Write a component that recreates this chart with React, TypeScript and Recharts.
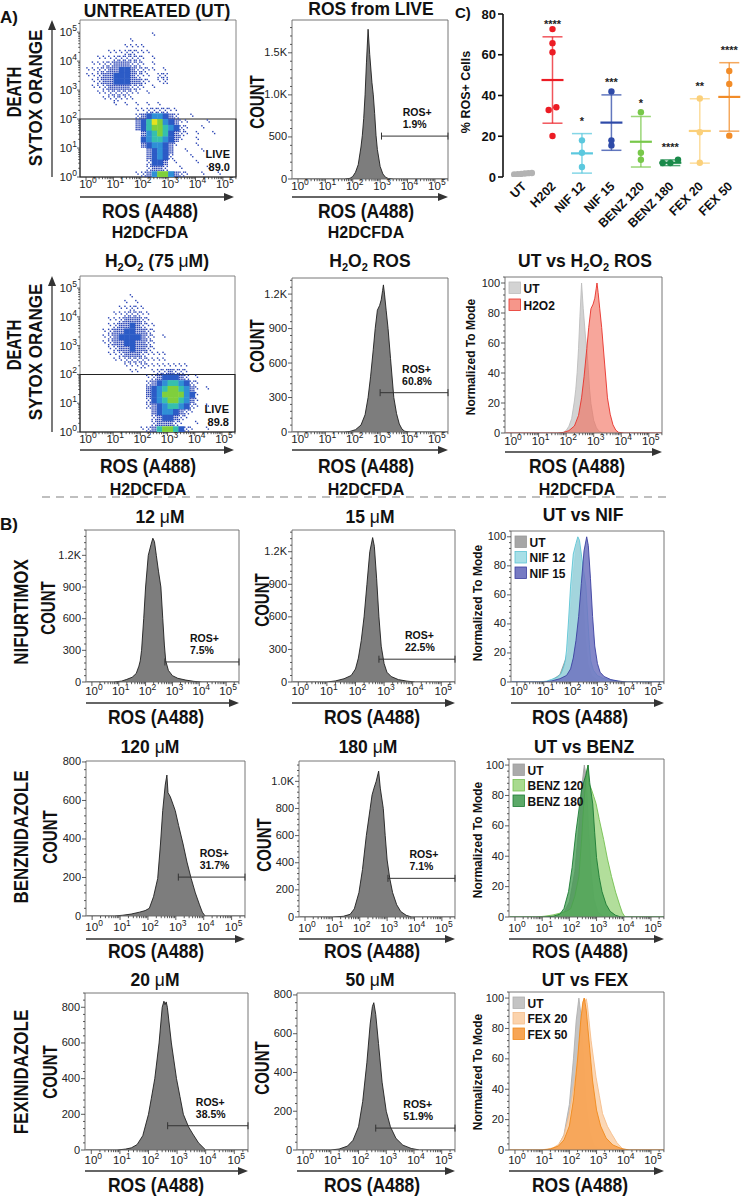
import React from 'react';
import {
  ComposedChart,
  Area,
  Scatter,
  XAxis,
  YAxis,
  ReferenceArea,
  ReferenceDot,
  ReferenceLine,
  ErrorBar,
} from 'recharts';

const FONT = '"Liberation Sans", Arial, Helvetica, sans-serif';

type Pt = [number, number];

// ---------------------------------------------------------------------------
// ROS (A488) histograms: [log10 fluorescence, events]
// ---------------------------------------------------------------------------
const utLiveHist: Pt[] = [
  [-0.2, 0], [1.7, 0], [1.9, 8], [2.0, 30], [2.1, 80], [2.2, 170], [2.3, 380], [2.35, 520],
  [2.4, 720], [2.45, 1000], [2.5, 1380], [2.56, 1780], [2.62, 1480], [2.7, 1150], [2.75, 1000],
  [2.8, 780], [2.85, 520], [2.9, 350], [3.0, 150], [3.1, 60], [3.2, 20], [3.3, 6], [3.5, 0], [5.48, 0],
];
const h2o2Hist: Pt[] = [
  [-0.2, 0], [1.7, 0], [1.9, 5], [2.1, 20], [2.3, 60], [2.45, 150], [2.56, 300], [2.65, 480],
  [2.75, 720], [2.82, 900], [2.9, 1060], [2.98, 1100], [3.04, 1150], [3.09, 1230], [3.12, 1280],
  [3.16, 1200], [3.22, 1060], [3.29, 900], [3.38, 640], [3.5, 300], [3.6, 160], [3.7, 70],
  [3.8, 25], [3.9, 6], [4.1, 0], [5.48, 0],
];
const nif12Hist: Pt[] = [
  [-0.2, 0], [0.8, 0], [1.1, 8], [1.3, 25], [1.5, 45], [1.65, 80], [1.75, 150], [1.8, 200],
  [1.85, 300], [1.93, 600], [2.0, 900], [2.1, 1200], [2.2, 1300], [2.27, 1362], [2.33, 1330],
  [2.4, 1200], [2.48, 1050], [2.57, 900], [2.64, 600], [2.7, 350], [2.75, 200], [2.85, 110],
  [3.0, 60], [3.2, 35], [3.5, 18], [3.8, 6], [4.1, 0], [5.48, 0],
];
const nif15Hist: Pt[] = [
  [-0.2, 0], [1.0, 0], [1.3, 10], [1.6, 30], [1.85, 60], [2.0, 120], [2.1, 220], [2.2, 380],
  [2.3, 600], [2.4, 900], [2.5, 1200], [2.6, 1330], [2.66, 1250], [2.74, 950], [2.82, 600],
  [2.9, 330], [3.0, 170], [3.1, 90], [3.25, 50], [3.5, 22], [3.8, 8], [4.1, 0], [5.48, 0],
];
const benz120Hist: Pt[] = [
  [-0.2, 0], [0.8, 0], [1.1, 4], [1.4, 10], [1.7, 20], [1.9, 28], [2.05, 40], [2.2, 100],
  [2.35, 195], [2.45, 374], [2.53, 547], [2.62, 680], [2.68, 732], [2.72, 640], [2.8, 620],
  [2.9, 580], [2.98, 547], [3.1, 470], [3.26, 374], [3.4, 280], [3.55, 195], [3.7, 120],
  [3.85, 58], [3.95, 20], [4.05, 0], [5.48, 0],
];
const benz180Hist: Pt[] = [
  [-0.2, 0], [1.0, 0], [1.4, 5], [1.65, 20], [1.8, 60], [1.97, 180], [2.1, 350], [2.24, 600],
  [2.38, 800], [2.45, 900], [2.52, 950], [2.6, 1000], [2.69, 1075], [2.75, 950], [2.86, 800],
  [2.93, 600], [3.0, 420], [3.1, 280], [3.2, 180], [3.35, 90], [3.5, 40], [3.7, 12], [3.9, 0], [5.48, 0],
];
const fex20Hist: Pt[] = [
  [-0.2, 0], [0.9, 0], [1.2, 5], [1.4, 12], [1.6, 30], [1.8, 80], [2.0, 200], [2.1, 290],
  [2.22, 400], [2.37, 600], [2.48, 800], [2.54, 834], [2.58, 815], [2.62, 830], [2.66, 800],
  [2.8, 600], [2.98, 400], [3.1, 300], [3.22, 200], [3.4, 130], [3.55, 90], [3.75, 40], [4.0, 0], [5.48, 0],
];
const fex50Hist: Pt[] = [
  [-0.2, 0], [1.0, 0], [1.3, 5], [1.6, 20], [1.8, 50], [2.0, 120], [2.15, 250], [2.3, 450],
  [2.42, 650], [2.5, 740], [2.55, 760], [2.62, 700], [2.72, 550], [2.85, 350], [3.0, 200],
  [3.15, 120], [3.35, 60], [3.6, 25], [3.9, 8], [4.2, 0], [5.48, 0],
];

// Untreated controls run alongside each drug, already normalized to mode (%)
const utNifNorm: Pt[] = [
  [-0.2, 0], [1.2, 0], [1.6, 5], [1.9, 20], [2.0, 50], [2.1, 75], [2.2, 92], [2.28, 98],
  [2.35, 90], [2.45, 60], [2.55, 30], [2.65, 12], [2.8, 4], [3.1, 0], [5.48, 0],
];
const utBenzNorm: Pt[] = [
  [-0.2, 0], [1.5, 0], [1.8, 3], [2.0, 10], [2.2, 30], [2.35, 60], [2.45, 85], [2.55, 100],
  [2.62, 92], [2.7, 60], [2.8, 30], [2.9, 12], [3.05, 3], [3.3, 0], [5.48, 0],
];
const utFexNorm: Pt[] = [
  [-0.2, 0], [1.3, 0], [1.6, 3], [1.8, 10], [2.0, 30], [2.15, 60], [2.25, 85], [2.35, 100],
  [2.42, 90], [2.52, 60], [2.62, 30], [2.75, 12], [2.9, 3], [3.2, 0], [5.48, 0],
];

// ROS+ gates, in order: UT, H2O2, NIF 12, NIF 15, BENZ 120, BENZ 180, FEX 20, FEX 50
const gateStarts = [3.05, 3.0, 2.72, 2.82, 3.09, 3.03, 2.67, 2.62];
const gateLevels = [510, 342, 190, 210, 202, 285, 136, 113];
const gatePercents = ['1.9%', '60.8%', '7.5%', '22.5%', '31.7%', '7.1%', '38.5%', '51.9%'];

// LIVE gate frequency (UT, H2O2)
const livePercents = ['89.0', '89.8'];

// ---------------------------------------------------------------------------
// SYTOX Orange vs ROS dot plots: 2D density in 0.2-decade bins.
// Rows run from 10^5.4 (top) down to 10^0; columns from 10^0 upward.
// Digits are density levels (1 sparse ... 9 hottest).
// ---------------------------------------------------------------------------
const utDeathVsRos: string[] = [
  '',
  '',
  '............1',
  '........1',
  '.......1111',
  '....11122111',
  '..111222221.1',
  '.1122333221.1',
  '1122334432211.1',
  '112334443211.22',
  '.12334443321.12',
  '.1123333221.1',
  '..11222211.1',
  '...112111',
  '.....1.1.1.1.1',
  '.........11222211',
  '.........23455432..1',
  '.........3468754311...1',
  '.........3467765421..1',
  '..........356764321.1..1',
  '..........45665431..1',
  '..........3455431...1',
  '...........34543..1..1',
  '...........34542...1',
  '...........2443.1...1',
  '...........2332..1....1',
  '.........1235775321..1..1',
];
const h2o2DeathVsRos: string[] = [
  '',
  '',
  '',
  '........1',
  '.......1.1',
  '......11211',
  '.....1122211',
  '....11233321',
  '....123343211',
  '...1233443321',
  '...1234444321.1',
  '...1233443321',
  '....123343321',
  '....11233321111',
  '.....1122221111',
  '.......111211111111',
  '........11..1223221',
  '...........12344432.1',
  '...........2345665421',
  '...........3456776531.1',
  '...........3457777541',
  '...........2456776531',
  '...........2345665421.1',
  '............34554321',
  '............2344321',
  '............233321..1',
  '..........1236776421..1',
];

// ---------------------------------------------------------------------------
// C) % ROS+ cells per treatment
// ---------------------------------------------------------------------------
const rosGroups = ['UT', 'H202', 'NIF 12', 'NIF 15', 'BENZ 120', 'BENZ 180', 'FEX 20', 'FEX 50'];
const rosReplicates: number[][] = [
  [1.9, 1.5, 1.2, 1.7, 1.4, 2.0],
  [72.6, 65.7, 61.2, 34.2, 32.9, 20.1],
  [18.0, 11.9, 4.9],
  [42.0, 18.0, 15.5],
  [31.8, 11.9, 8.5],
  [8.5, 6.9, 6.9],
  [38.5, 22.0, 7.0],
  [52.0, 45.7, 20.3],
];
const rosMeans = [1.6, 47.6, 11.6, 26.7, 17.3, 7.0, 22.6, 39.3];
const rosSd = [0.3, 21.2, 9.7, 13.6, 12.4, 1.4, 15.8, 16.8];
const rosSignificance = ['', '****', '*', '***', '*', '****', '**', '****'];
const rosColors = ['#b3b3b3', '#ec1c24', '#5bc8de', '#2e4aa8', '#78c84a', '#1a8a4a', '#fbd07a', '#f28c28'];

// ---------------------------------------------------------------------------
// Shared axis helpers
// ---------------------------------------------------------------------------
const X_MIN = -0.22;
const X_MAX = 5.48;
const SY_MIN = 0;
const SY_MAX = 5.42;
const CELL = 0.2;
const DECADES = [0, 1, 2, 3, 4, 5];
const logTicks = (max: number) =>
  [...DECADES, ...DECADES.flatMap((d) => [2, 3, 4, 5, 6, 7, 8, 9].map((k) => d + Math.log10(k)))].filter(
    (v) => v <= max,
  );
const X_TICKS = logTicks(X_MAX);
const SY_TICKS = logTicks(SY_MAX);

const toXY = (pts: Pt[]) => pts.map(([x, y]) => ({ x, y }));
const normToMode = (pts: Pt[]): Pt[] => {
  const m = Math.max(...pts.map((p) => p[1]));
  return pts.map(([x, y]) => [x, (y / m) * 100]);
};
const kFmt = (v: number) => (v >= 1000 ? `${(v / 1000).toFixed(1)}K` : String(v));
const plainFmt = (v: number) => String(v);

const isMajorLog = (v: number) => Math.abs(v - Math.round(v)) < 1e-6;

function xLogTick(dy: number) {
  return (p: any) => {
    const v = Number(p.payload.value);
    const major = isMajorLog(v);
    return (
      <g>
        <line x1={p.x} x2={p.x} y1={p.y} y2={p.y + (major ? 4 : 2.2)} stroke="#333" strokeWidth={0.8} />
        {major ? (
          <text x={p.x + 2} y={p.y + dy} textAnchor="middle" fontSize={11.5} fill="#222" fontFamily={FONT}>
            10
            <tspan fontSize={8.5} dy={-5}>
              {Math.round(v)}
            </tspan>
          </text>
        ) : null}
      </g>
    );
  };
}

const yLogTick = (p: any) => {
  const v = Number(p.payload.value);
  const major = isMajorLog(v);
  return (
    <g>
      <line x1={p.x} x2={p.x - (major ? 3 : 1.8)} y1={p.y} y2={p.y} stroke="#333" strokeWidth={0.8} />
      {major ? (
        <text x={p.x - 3} y={p.y + 4} textAnchor="end" fontSize={11.5} fill="#222" fontFamily={FONT}>
          10
          <tspan fontSize={8.5} dy={-5}>
            {Math.round(v)}
          </tspan>
        </text>
      ) : null}
    </g>
  );
};

function yLinTick(majors: number[], fmt: (v: number) => string) {
  return (p: any) => {
    const v = Number(p.payload.value);
    const major = majors.some((m) => Math.abs(m - v) < 1e-6);
    return (
      <g>
        <line x1={p.x} x2={p.x - (major ? 4 : 2)} y1={p.y} y2={p.y} stroke="#333" strokeWidth={0.8} />
        {major ? (
          <text x={p.x - 5} y={p.y + 3.5} textAnchor="end" fontSize={11} fill="#222" fontFamily={FONT}>
            {fmt(v)}
          </text>
        ) : null}
      </g>
    );
  };
}

const YW = 40;
const XH = 26;
const MT = 6;
const MR = 14;

type Series = { name?: string; data: Pt[]; fill: string; stroke: string; opacity?: number };

// ---------------------------------------------------------------------------
// Histogram / overlay panel
// ---------------------------------------------------------------------------
function FlowHist({
  box,
  series,
  yMax,
  yStep,
  fmt,
  gate,
  xDy,
  legend,
  legendStep = 16,
}: {
  box: { l: number; t: number; w: number; h: number };
  series: Series[];
  yMax: number;
  yStep: number;
  fmt: (v: number) => string;
  gate?: number;
  xDy: number;
  legend?: boolean;
  legendStep?: number;
}) {
  const majors: number[] = [];
  for (let v = 0; v <= yMax + 1e-6; v += yStep) majors.push(v);
  const ms = yStep / 5;
  const minors: number[] = [];
  for (let v = ms; v <= yMax; v += ms) if (!majors.some((m) => Math.abs(m - v) < 1e-6)) minors.push(v);
  const yTicks = [...majors, ...minors];
  const W = box.w + YW + MR;
  const H = box.h + XH + MT;

  return (
    <div style={{ position: 'absolute', left: box.l - YW, top: box.t - MT }}>
      <ComposedChart width={W} height={H} margin={{ top: MT, right: MR, bottom: 0, left: 0 }}>
        <XAxis
          type="number"
          dataKey="x"
          domain={[X_MIN, X_MAX]}
          allowDataOverflow
          ticks={X_TICKS}
          interval={0}
          axisLine={false}
          tickLine={false}
          tickSize={0}
          tickMargin={0}
          height={XH}
          tick={xLogTick(xDy)}
        />
        <YAxis
          type="number"
          dataKey="y"
          domain={[0, yMax]}
          allowDataOverflow
          ticks={yTicks}
          interval={0}
          axisLine={false}
          tickLine={false}
          tickSize={0}
          tickMargin={0}
          width={YW}
          tick={yLinTick(majors, fmt)}
        />
        {series.map((s, i) => (
          <Area
            key={`s${i}`}
            data={toXY(s.data)}
            dataKey="y"
            type="linear"
            fill={s.fill}
            fillOpacity={s.opacity ?? 1}
            stroke={s.stroke}
            strokeWidth={0.9}
            dot={false}
            activeDot={false}
            isAnimationActive={false}
          />
        ))}
        <ReferenceArea
          x1={X_MIN}
          x2={X_MAX}
          y1={0}
          y2={yMax}
          fill="none"
          fillOpacity={0}
          stroke="#666"
          strokeWidth={0.9}
          ifOverflow="visible"
        />
        {gate !== undefined ? (
          <ReferenceLine
            segment={[
              { x: gateStarts[gate], y: gateLevels[gate] },
              { x: X_MAX, y: gateLevels[gate] },
            ]}
            stroke="#333"
            strokeWidth={1}
            ifOverflow="visible"
          />
        ) : null}
        {gate !== undefined
          ? [gateStarts[gate], X_MAX].map((gx, k) => (
              <ReferenceDot
                key={`cap${k}`}
                x={gx}
                y={gateLevels[gate]}
                r={0}
                ifOverflow="visible"
                shape={(p: any) => (
                  <line x1={p.cx} x2={p.cx} y1={p.cy - 3.5} y2={p.cy + 3.5} stroke="#333" strokeWidth={1} />
                )}
              />
            ))
          : null}
        {gate !== undefined ? (
          <ReferenceDot
            x={(gateStarts[gate] + X_MAX) / 2}
            y={gateLevels[gate]}
            r={0}
            ifOverflow="visible"
            shape={(p: any) => (
              <g fontFamily={FONT} fontWeight={700} fontSize={10.5} fill="#111">
                <text x={p.cx - 12} y={p.cy - 20}>
                  ROS+
                </text>
                <text x={p.cx - 12} y={p.cy - 8}>
                  {gatePercents[gate]}
                </text>
              </g>
            )}
          />
        ) : null}
        {legend ? (
          <ReferenceDot
            x={X_MIN}
            y={yMax}
            r={0}
            ifOverflow="visible"
            shape={(p: any) => (
              <g fontFamily={FONT} fontWeight={700} fontSize={12} fill="#111">
                {series.map((s, i) => (
                  <g key={`lg${i}`}>
                    <rect
                      x={p.cx + 4}
                      y={p.cy + 5 + i * legendStep}
                      width={11.5}
                      height={11.5}
                      fill={s.fill}
                      fillOpacity={Math.min(1, (s.opacity ?? 1) + 0.1)}
                      stroke={s.stroke}
                      strokeWidth={0.8}
                    />
                    <text x={p.cx + 18.5} y={p.cy + 15.5 + i * legendStep}>
                      {s.name}
                    </text>
                  </g>
                ))}
              </g>
            )}
          />
        ) : null}
      </ComposedChart>
    </div>
  );
}

// ---------------------------------------------------------------------------
// Density dot plot (SYTOX Orange vs ROS)
// ---------------------------------------------------------------------------
const HEAT = ['', '#2a44b5', '#2a44b5', '#2a44b5', '#2c5bc6', '#2f8fd6', '#36bfae', '#7fcf3c', '#e5e21f', '#f2542a'];
const SUB_ORDER = [4, 0, 8, 2, 6, 1, 7, 3, 5];
const SPARSE_DOTS = [0, 2, 5, 9];

function densityCells(rows: string[]) {
  const out: { x: number; y: number; level: number }[] = [];
  rows.forEach((row, r) => {
    const j = rows.length - 1 - r;
    for (let c = 0; c < row.length; c++) {
      const lv = row.charCodeAt(c) - 48;
      if (lv >= 1 && lv <= 9) out.push({ x: c * CELL + CELL / 2, y: j * CELL + CELL / 2, level: lv });
    }
  });
  return out;
}

function densityShape(cw: number, ch: number) {
  return (p: any) => {
    const lv = p.payload?.level ?? 1;
    const x0 = p.cx - cw / 2;
    const y0 = p.cy - ch / 2;
    if (lv >= 4) return <rect x={x0} y={y0} width={cw + 0.4} height={ch + 0.4} fill={HEAT[lv]} />;
    const n = SPARSE_DOTS[lv];
    return (
      <g>
        {SUB_ORDER.slice(0, n).map((s) => (
          <rect
            key={s}
            x={x0 + ((s % 3) + 0.5) * (cw / 3) - 0.7}
            y={y0 + (Math.floor(s / 3) + 0.5) * (ch / 3) - 0.7}
            width={1.4}
            height={1.4}
            fill={HEAT[lv]}
          />
        ))}
      </g>
    );
  };
}

function DotPlot({
  box,
  rows,
  live,
  xDy,
}: {
  box: { l: number; t: number; w: number; h: number };
  rows: string[];
  live: string;
  xDy: number;
}) {
  const cells = densityCells(rows);
  const cw = (box.w / (X_MAX - X_MIN)) * CELL;
  const ch = (box.h / (SY_MAX - SY_MIN)) * CELL;
  const W = box.w + YW + MR;
  const H = box.h + XH + MT;
  return (
    <div style={{ position: 'absolute', left: box.l - YW, top: box.t - MT }}>
      <ComposedChart width={W} height={H} margin={{ top: MT, right: MR, bottom: 0, left: 0 }}>
        <XAxis
          type="number"
          dataKey="x"
          domain={[X_MIN, X_MAX]}
          allowDataOverflow
          ticks={X_TICKS}
          interval={0}
          axisLine={false}
          tickLine={false}
          tickSize={0}
          tickMargin={0}
          height={XH}
          tick={xLogTick(xDy)}
        />
        <YAxis
          type="number"
          dataKey="y"
          domain={[SY_MIN, SY_MAX]}
          allowDataOverflow
          ticks={SY_TICKS}
          interval={0}
          axisLine={false}
          tickLine={false}
          tickSize={0}
          tickMargin={0}
          width={YW}
          tick={yLogTick}
        />
        <Scatter data={cells} shape={densityShape(cw, ch)} isAnimationActive={false} />
        <ReferenceArea
          x1={X_MIN}
          x2={X_MAX}
          y1={SY_MIN}
          y2={SY_MAX}
          fill="none"
          fillOpacity={0}
          stroke="#777"
          strokeWidth={0.9}
          ifOverflow="visible"
        />
        <ReferenceArea
          x1={X_MIN}
          x2={X_MAX}
          y1={SY_MIN}
          y2={2}
          fill="none"
          fillOpacity={0}
          stroke="#222"
          strokeWidth={1.1}
          ifOverflow="visible"
        />
        <ReferenceDot
          x={X_MAX}
          y={SY_MIN}
          r={0}
          ifOverflow="visible"
          shape={(p: any) => (
            <g fontFamily={FONT} fontWeight={700} fontSize={11} fill="#111" textAnchor="end">
              <text x={p.cx - 6} y={p.cy - 19}>
                LIVE
              </text>
              <text x={p.cx - 6} y={p.cy - 6}>
                {live}
              </text>
            </g>
          )}
        />
      </ComposedChart>
    </div>
  );
}

// ---------------------------------------------------------------------------
// C) summary dot plot with mean ± SD
// ---------------------------------------------------------------------------
function spreadOffsets(vals: number[]): number[] {
  const idx = vals.map((_, i) => i).sort((a, b) => vals[a] - vals[b]);
  const offs = new Array(vals.length).fill(0);
  let k = 0;
  while (k < idx.length) {
    let e = k;
    while (e + 1 < idx.length && vals[idx[e + 1]] - vals[idx[k]] < 2.2) e++;
    const n = e - k + 1;
    const step = n > 1 ? Math.min(0.26, 0.6 / (n - 1)) : 0;
    for (let m = 0; m < n; m++) offs[idx[k + m]] = (m - (n - 1) / 2) * step;
    k = e + 1;
  }
  return offs;
}

function RosSummary() {
  const plotL = 503;
  const plotT = 14;
  const plotW = 241;
  const plotH = 163;
  const yw = 30;
  const xh = 60;
  const mt = 10;
  const mr = 6;

  const catTick = (p: any) => {
    const i = Math.round(Number(p.payload.value));
    return (
      <text
        transform={`translate(${p.x + 4},${p.y + 10}) rotate(-45)`}
        textAnchor="end"
        fontSize={12.5}
        fontWeight={700}
        fill="#111"
        fontFamily={FONT}
      >
        {rosGroups[i]}
      </text>
    );
  };

  return (
    <div style={{ position: 'absolute', left: plotL - yw, top: plotT - mt }}>
      <ComposedChart width={yw + plotW + mr} height={mt + plotH + xh} margin={{ top: mt, right: mr, bottom: 0, left: 0 }}>
        <XAxis
          type="number"
          dataKey="x"
          domain={[-0.68, 7.5]}
          allowDataOverflow
          ticks={[0, 1, 2, 3, 4, 5, 6, 7]}
          interval={0}
          axisLine={false}
          tickLine={false}
          tickSize={0}
          tickMargin={0}
          height={xh}
          tick={catTick}
        />
        <YAxis
          type="number"
          dataKey="y"
          domain={[0, 80]}
          allowDataOverflow
          ticks={[0, 20, 40, 60, 80]}
          interval={0}
          width={yw}
          axisLine={{ stroke: '#111', strokeWidth: 1.6 }}
          tickLine={{ stroke: '#111', strokeWidth: 1.6 }}
          tickSize={5}
          tickMargin={2}
          tick={{ fontSize: 13, fontWeight: 700, fill: '#111', fontFamily: FONT }}
        />
        {rosGroups.map((g, i) => (
          <Scatter
            key={`mean-${g}`}
            data={[{ x: i, y: rosMeans[i], sd: rosSd[i] }]}
            isAnimationActive={false}
            shape={(p: any) => (
              <line x1={p.cx - 11} x2={p.cx + 11} y1={p.cy} y2={p.cy} stroke={rosColors[i]} strokeWidth={2.2} />
            )}
          >
            <ErrorBar dataKey="sd" direction="y" width={10} stroke={rosColors[i]} strokeWidth={1.5} strokeOpacity={0.75} />
          </Scatter>
        ))}
        {rosGroups.map((g, i) => {
          const offs = spreadOffsets(rosReplicates[i]);
          return (
            <Scatter
              key={`pts-${g}`}
              data={rosReplicates[i].map((v, k) => ({ x: i + offs[k], y: v }))}
              isAnimationActive={false}
              shape={(p: any) => <circle cx={p.cx} cy={p.cy} r={3.2} fill={rosColors[i]} />}
            />
          );
        })}
        <Scatter
          data={rosGroups.map((_, i) => ({ x: i, y: rosMeans[i] + rosSd[i], label: rosSignificance[i] }))}
          isAnimationActive={false}
          shape={(p: any) => (
            <text x={p.cx} y={p.cy - 9} textAnchor="middle" fontSize={11} fontWeight={700} fill="#222" fontFamily={FONT}>
              {p.payload?.label}
            </text>
          )}
        />
      </ComposedChart>
    </div>
  );
}

// ---------------------------------------------------------------------------
// Figure annotations: panel letters, titles, axis titles and arrows
// ---------------------------------------------------------------------------
function Txt({
  x,
  y,
  size,
  anchor = 'middle',
  weight = 700,
  children,
}: {
  x: number;
  y: number;
  size: number;
  anchor?: string;
  weight?: number;
  children: React.ReactNode;
}) {
  return (
    <text x={x} y={y} fontSize={size} fontWeight={weight} textAnchor={anchor as any} fontFamily={FONT} fill="#111">
      {children}
    </text>
  );
}

function Stretched({ x, y, size, sy, children }: { x: number; y: number; size: number; sy: number; children: React.ReactNode }) {
  return (
    <text
      transform={`translate(${x},${y}) scale(1,${sy})`}
      fontSize={size}
      fontWeight={700}
      textAnchor="middle"
      fontFamily={FONT}
      fill="#111"
    >
      {children}
    </text>
  );
}

function VLabel({ x, y, size, sy = 1, children }: { x: number; y: number; size: number; sy?: number; children: React.ReactNode }) {
  return (
    <text
      transform={`translate(${x},${y}) rotate(-90) scale(1,${sy})`}
      fontSize={size}
      fontWeight={700}
      textAnchor="middle"
      dominantBaseline="central"
      fontFamily={FONT}
      fill="#111"
    >
      {children}
    </text>
  );
}

const Sub2 = () => (
  <tspan dy={4} fontSize={11}>
    2
  </tspan>
);
const Up = ({ t }: { t: string }) => <tspan dy={-4}>{t}</tspan>;
const Mu = () => <tspan fontWeight={400}>μ</tspan>;

function HArrow({ x1, x2, y }: { x1: number; x2: number; y: number }) {
  return (
    <g>
      <line x1={x1} x2={x2 - 6} y1={y} y2={y} stroke="#333" strokeWidth={1.3} />
      <path d={`M${x2},${y} L${x2 - 10},${y - 4} L${x2 - 10},${y + 4} Z`} fill="#333" />
    </g>
  );
}

function VArrow({ x, y1, y2 }: { x: number; y1: number; y2: number }) {
  return (
    <g>
      <line x1={x} x2={x} y1={y1} y2={y2 + 6} stroke="#333" strokeWidth={1.3} />
      <path d={`M${x},${y2} L${x - 4},${y2 + 10} L${x + 4},${y2 + 10} Z`} fill="#333" />
    </g>
  );
}

function Annotations() {
  return (
    <svg width={754} height={1196} style={{ position: 'absolute', left: 0, top: 0, pointerEvents: 'none' }}>
      <Txt x={0} y={23} size={17} anchor="start">A)</Txt>
      <Txt x={0} y={530} size={17} anchor="start">B)</Txt>
      <Txt x={455} y={18} size={15} anchor="start">C)</Txt>

      {/* panel titles */}
      <Txt x={157} y={17} size={17.5}>UNTREATED (UT)</Txt>
      <Txt x={371} y={15} size={17.5}>ROS from LIVE</Txt>
      <Txt x={157} y={267} size={17.5}>
        H<Sub2 />
        <Up t="O" />
        <Sub2 />
        <Up t=" (75 " />
        <Mu />
        M)
      </Txt>
      <Txt x={370} y={267} size={17.5}>
        H<Sub2 />
        <Up t="O" />
        <Sub2 />
        <Up t=" ROS" />
      </Txt>
      <Txt x={585} y={267} size={17.5}>
        UT vs H<Sub2 />
        <Up t="O" />
        <Sub2 />
        <Up t=" ROS" />
      </Txt>
      <Txt x={160} y={523} size={17.5}>
        {'12 '}
        <Mu />M
      </Txt>
      <Txt x={370} y={523} size={17.5}>
        {'15 '}
        <Mu />M
      </Txt>
      <Txt x={583} y={521} size={17.5}>UT vs NIF</Txt>
      <Txt x={150} y={753} size={17.5}>
        {'120 '}
        <Mu />M
      </Txt>
      <Txt x={368} y={753} size={17.5}>
        {'180 '}
        <Mu />M
      </Txt>
      <Txt x={584} y={753} size={17.5}>UT vs BENZ</Txt>
      <Txt x={155} y={986} size={17.5}>
        {'20 '}
        <Mu />M
      </Txt>
      <Txt x={370} y={986} size={17.5}>
        {'50 '}
        <Mu />M
      </Txt>
      <Txt x={585} y={986} size={17.5}>UT vs FEX</Txt>

      {/* x-axis arrows */}
      <HArrow x1={80} x2={234} y={197} />
      <HArrow x1={292} x2={448} y={197} />
      <HArrow x1={80} x2={234} y={450} />
      <HArrow x1={292} x2={448} y={450} />
      <HArrow x1={505} x2={662} y={452} />
      <HArrow x1={86} x2={239} y={703} />
      <HArrow x1={292} x2={455} y={703} />
      <HArrow x1={511} x2={664} y={703} />
      <HArrow x1={86} x2={245} y={939} />
      <HArrow x1={299} x2={455} y={939} />
      <HArrow x1={509} x2={664} y={939} />
      <HArrow x1={85} x2={248} y={1171} />
      <HArrow x1={297} x2={455} y={1171} />
      <HArrow x1={509} x2={664} y={1171} />

      {/* y-axis arrows on the dot plots */}
      <VArrow x={52} y1={177} y2={20} />
      <VArrow x={52} y1={432} y2={276} />

      {/* x-axis titles */}
      <Stretched x={150} y={218} size={17.5} sy={1.18}>ROS (A488)</Stretched>
      <Txt x={150} y={238} size={16}>H2DCFDA</Txt>
      <Stretched x={366} y={218} size={17.5} sy={1.18}>ROS (A488)</Stretched>
      <Txt x={366} y={238} size={16}>H2DCFDA</Txt>
      <Stretched x={148} y={473} size={17.5} sy={1.18}>ROS (A488)</Stretched>
      <Txt x={148} y={495} size={16}>H2DCFDA</Txt>
      <Stretched x={366} y={473} size={17.5} sy={1.18}>ROS (A488)</Stretched>
      <Txt x={366} y={495} size={16}>H2DCFDA</Txt>
      <Stretched x={577} y={473} size={17.5} sy={1.18}>ROS (A488)</Stretched>
      <Txt x={577} y={495} size={16}>H2DCFDA</Txt>
      {[724, 958, 1192].map((y) => (
        <g key={`xt${y}`}>
          <Stretched x={156} y={y} size={17.5} sy={1.18}>ROS (A488)</Stretched>
          <Stretched x={372} y={y} size={17.5} sy={1.18}>ROS (A488)</Stretched>
          <Stretched x={580} y={y} size={17.5} sy={1.18}>ROS (A488)</Stretched>
        </g>
      ))}

      {/* y-axis titles */}
      <VLabel x={14} y={92} size={15} sy={1.3}>DEATH</VLabel>
      <VLabel x={36} y={98} size={17} sy={1.1}>SYTOX ORANGE</VLabel>
      <VLabel x={14} y={345} size={15} sy={1.3}>DEATH</VLabel>
      <VLabel x={36} y={352} size={17} sy={1.1}>SYTOX ORANGE</VLabel>
      <VLabel x={257} y={102} size={15} sy={1.35}>COUNT</VLabel>
      <VLabel x={257} y={346} size={15} sy={1.35}>COUNT</VLabel>
      <VLabel x={21} y={612} size={17} sy={1.15}>NIFURTIMOX</VLabel>
      <VLabel x={48} y={608} size={15} sy={1.35}>COUNT</VLabel>
      <VLabel x={262} y={600} size={15} sy={1.35}>COUNT</VLabel>
      <VLabel x={21} y={837} size={17} sy={1.15}>BENZNIDAZOLE</VLabel>
      <VLabel x={50} y={837} size={15} sy={1.35}>COUNT</VLabel>
      <VLabel x={264} y={845} size={15} sy={1.35}>COUNT</VLabel>
      <VLabel x={21} y={1072} size={17} sy={1.15}>FEXINIDAZOLE</VLabel>
      <VLabel x={50} y={1072} size={15} sy={1.35}>COUNT</VLabel>
      <VLabel x={262} y={1068} size={15} sy={1.35}>COUNT</VLabel>
      <VLabel x={471} y={357} size={12}>Normalized To Mode</VLabel>
      <VLabel x={478} y={603} size={12}>Normalized To Mode</VLabel>
      <VLabel x={478} y={840} size={12}>Normalized To Mode</VLabel>
      <VLabel x={478} y={1072} size={12}>Normalized To Mode</VLabel>
      <VLabel x={466} y={92} size={12.5}>% ROS+ Cells</VLabel>

      {/* separator between A and B */}
      <line x1={42} x2={666} y1={497} y2={497} stroke="#808080" strokeWidth={1.2} strokeDasharray="8 6" />
    </svg>
  );
}

// ---------------------------------------------------------------------------
const SINGLE = { fill: '#7d7d7d', stroke: '#1e1e1e' };

export default function App() {
  return (
    <div
      style={{
        position: 'absolute',
        left: 0,
        top: 0,
        width: 754,
        height: 1196,
        background: '#fff',
        overflow: 'hidden',
        fontFamily: FONT,
      }}
    >
      {/* A) row 1 */}
      <DotPlot box={{ l: 80, t: 20, w: 156, h: 157 }} rows={utDeathVsRos} live={livePercents[0]} xDy={11} />
      <FlowHist
        box={{ l: 292, t: 20, w: 156, h: 159 }}
        series={[{ data: utLiveHist, ...SINGLE }]}
        yMax={1890}
        yStep={500}
        fmt={kFmt}
        gate={0}
        xDy={11}
      />
      <RosSummary />

      {/* A) row 2 */}
      <DotPlot box={{ l: 80, t: 276, w: 155, h: 156 }} rows={h2o2DeathVsRos} live={livePercents[1]} xDy={11} />
      <FlowHist
        box={{ l: 292, t: 278, w: 156, h: 154 }}
        series={[{ data: h2o2Hist, ...SINGLE }]}
        yMax={1340}
        yStep={300}
        fmt={kFmt}
        gate={1}
        xDy={11}
      />
      <FlowHist
        box={{ l: 505, t: 277, w: 157, h: 156 }}
        series={[
          { name: 'UT', data: normToMode(utLiveHist), fill: '#d3d3d3', stroke: '#bdbdbd' },
          { name: 'H2O2', data: normToMode(h2o2Hist), fill: '#f26a58', stroke: '#e8312a', opacity: 0.6 },
        ]}
        yMax={104}
        yStep={20}
        fmt={plainFmt}
        xDy={12}
        legend
        legendStep={17}
      />

      {/* B) nifurtimox */}
      <FlowHist
        box={{ l: 86, t: 530, w: 153, h: 152 }}
        series={[{ data: nif12Hist, ...SINGLE }]}
        yMax={1440}
        yStep={300}
        fmt={kFmt}
        gate={2}
        xDy={13}
      />
      <FlowHist
        box={{ l: 292, t: 530, w: 163, h: 152 }}
        series={[{ data: nif15Hist, ...SINGLE }]}
        yMax={1400}
        yStep={300}
        fmt={kFmt}
        gate={3}
        xDy={13}
      />
      <FlowHist
        box={{ l: 511, t: 531, w: 153, h: 151 }}
        series={[
          { name: 'UT', data: utNifNorm, fill: '#a6a6a6', stroke: '#9a9a9a' },
          { name: 'NIF 12', data: normToMode(nif12Hist), fill: '#a2dde6', stroke: '#5ec4d4', opacity: 0.85 },
          { name: 'NIF 15', data: normToMode(nif15Hist), fill: '#6f73c0', stroke: '#3b3fa0', opacity: 0.85 },
        ]}
        yMax={104}
        yStep={20}
        fmt={plainFmt}
        xDy={13}
        legend
        legendStep={15.5}
      />

      {/* B) benznidazole */}
      <FlowHist
        box={{ l: 86, t: 761, w: 159, h: 155 }}
        series={[{ data: benz120Hist, ...SINGLE }]}
        yMax={805}
        yStep={200}
        fmt={kFmt}
        gate={4}
        xDy={15}
      />
      <FlowHist
        box={{ l: 299, t: 761, w: 156, h: 156 }}
        series={[{ data: benz180Hist, ...SINGLE }]}
        yMax={1150}
        yStep={200}
        fmt={kFmt}
        gate={5}
        xDy={15}
      />
      <FlowHist
        box={{ l: 509, t: 759, w: 155, h: 158 }}
        series={[
          { name: 'UT', data: utBenzNorm, fill: '#ababab', stroke: '#9e9e9e' },
          { name: 'BENZ 120', data: normToMode(benz120Hist), fill: '#a4d88a', stroke: '#74c050', opacity: 0.85 },
          { name: 'BENZ 180', data: normToMode(benz180Hist), fill: '#3f9a4e', stroke: '#1c7a34', opacity: 0.75 },
        ]}
        yMax={104}
        yStep={20}
        fmt={plainFmt}
        xDy={15}
        legend
        legendStep={15.5}
      />

      {/* B) fexinidazole */}
      <FlowHist
        box={{ l: 85, t: 993, w: 163, h: 157 }}
        series={[{ data: fex20Hist, ...SINGLE }]}
        yMax={880}
        yStep={200}
        fmt={kFmt}
        gate={6}
        xDy={14}
      />
      <FlowHist
        box={{ l: 297, t: 993, w: 158, h: 157 }}
        series={[{ data: fex50Hist, ...SINGLE }]}
        yMax={810}
        yStep={200}
        fmt={kFmt}
        gate={7}
        xDy={14}
      />
      <FlowHist
        box={{ l: 509, t: 992, w: 155, h: 158 }}
        series={[
          { name: 'UT', data: utFexNorm, fill: '#c4c4c4', stroke: '#b0b0b0' },
          { name: 'FEX 20', data: normToMode(fex20Hist), fill: '#fbd3ad', stroke: '#f6bd8a', opacity: 0.9 },
          { name: 'FEX 50', data: normToMode(fex50Hist), fill: '#f7a04c', stroke: '#f08a1c', opacity: 0.85 },
        ]}
        yMax={104}
        yStep={20}
        fmt={plainFmt}
        xDy={14}
        legend
        legendStep={15.5}
      />

      <Annotations />
    </div>
  );
}
